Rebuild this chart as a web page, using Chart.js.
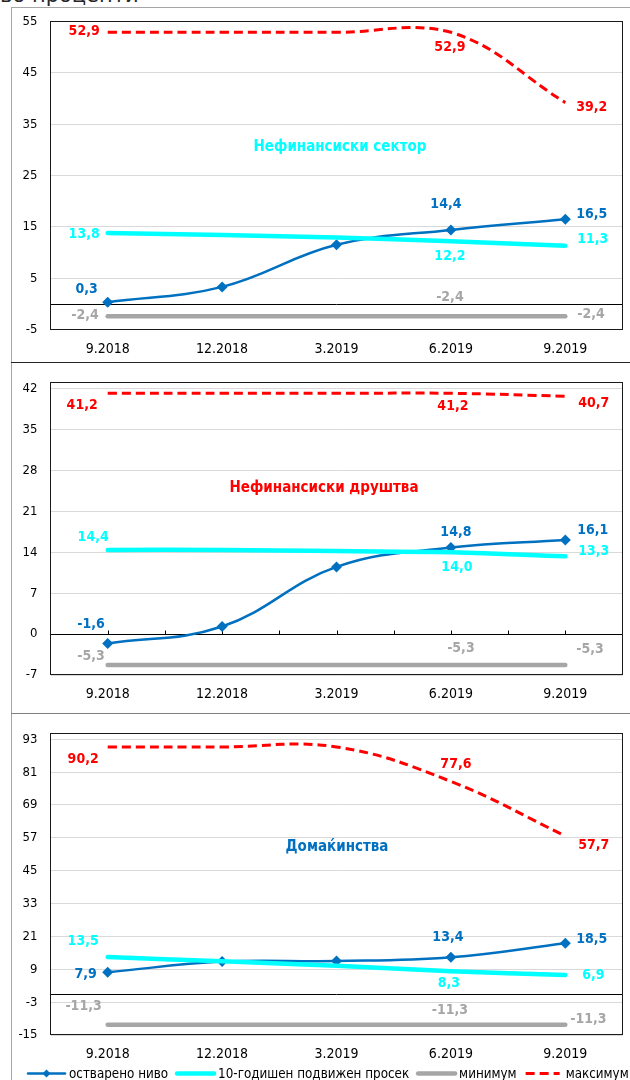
<!DOCTYPE html>
<html>
<head>
<meta charset="utf-8">
<script src="https://cdn.jsdelivr.net/npm/chart.js@4.4.1/dist/chart.umd.min.js"></script>
<style>
  body { margin: 0; background: #fff; }
  #page { position: relative; width: 630px; height: 1080px; overflow: hidden; }
  #unit { position: absolute; left: 0; top: -16px; font: 21px "DejaVu Sans"; line-height: 22px; color: #262626; white-space: nowrap; }
  #box { position: absolute; left: 11px; top: 7px; width: 640px; height: 1090px; border-left: 1px solid #a6a6a6; border-top: 1px solid #a6a6a6; }
  .rule { position: absolute; left: 11px; width: 640px; height: 0; }
  canvas { position: absolute; left: 0; }
</style>
</head>
<body>
<div id="page">
  <div id="unit">во проценти</div>
  <div id="box"></div>
  <div class="rule" style="top:362px;border-top:1px solid #262626"></div>
  <div class="rule" style="top:713px;border-top:1px solid #7f7f7f"></div>
  <canvas id="c1" width="630" height="362" style="top:0"></canvas>
  <canvas id="c2" width="630" height="351" style="top:362px"></canvas>
  <canvas id="c3" width="630" height="367" style="top:713px"></canvas>
</div>
<script>
// categories and series
const categories = ['9.2018', '12.2018', '3.2019', '6.2019', '9.2019'];
const seriesNames = ['остварено ниво', '10-годишен подвижен просек', 'минимум', 'максимум'];
const panelTitles = ['Нефинансиски сектор', 'Нефинансиски друштва', 'Домаќинства'];

const sectorActual = [0.3, 3.3, 11.5, 14.4, 16.5];
const sectorAvg    = [13.8, 13.4, 12.9, 12.2, 11.3];
const sectorMin    = [-2.4, -2.4, -2.4, -2.4, -2.4];
const sectorMax    = [52.9, 52.9, 52.9, 52.9, 39.2];
const sectorTicks  = [-5, 5, 15, 25, 35, 45, 55];

const firmsActual = [-1.6, 1.3, 11.5, 14.8, 16.1];
const firmsAvg    = [14.4, 14.4, 14.2, 14.0, 13.3];
const firmsMin    = [-5.3, -5.3, -5.3, -5.3, -5.3];
const firmsMax    = [41.2, 41.2, 41.2, 41.2, 40.7];
const firmsTicks  = [-7, 0, 7, 14, 21, 28, 35, 42];

const hhActual = [7.9, 11.8, 12.0, 13.4, 18.5];
const hhAvg    = [13.5, 11.9, 10.3, 8.3, 6.9];
const hhMin    = [-11.3, -11.3, -11.3, -11.3, -11.3];
const hhMax    = [90.2, 90.2, 90.2, 77.6, 57.7];
const hhTicks  = [-15, -3, 9, 21, 33, 45, 57, 69, 81, 93];

const colors = ['#0070c0', '#00ffff', '#a6a6a6', '#ff0000'];
const FONT = "'DejaVu Sans Condensed', 'DejaVu Sans', sans-serif";
const fmt = v => v.toFixed(1).replace('.', ',');

// zero line, plot frame, in-plot title and value labels
const panelPlugin = {
  id: 'panel',
  beforeDatasetsDraw(chart, args, o) {
    const { ctx, chartArea: a } = chart;
    const y0 = Math.round(chart.scales.y.getPixelForValue(0)) + 0.5;
    ctx.save();
    ctx.lineWidth = 1;
    ctx.strokeStyle = '#000';
    ctx.beginPath(); ctx.moveTo(a.left, y0); ctx.lineTo(a.right, y0); ctx.stroke();
    if (o.zeroTicks) {
      const step = (a.right - a.left) / (categories.length * 2);
      for (let k = 1; k < categories.length * 2; k++) {
        const x = Math.round(a.left + k * step) + 0.5;
        ctx.beginPath(); ctx.moveTo(x, y0); ctx.lineTo(x, y0 - 4); ctx.stroke();
      }
    }
    ctx.strokeStyle = '#1a1a1a';
    ctx.strokeRect(Math.floor(a.left) + 0.5, Math.floor(a.top) + 0.5,
      Math.round(a.right - a.left), Math.round(a.bottom - a.top));
    ctx.restore();
  },
  afterDatasetsDraw(chart, args, o) {
    const ctx = chart.ctx;
    ctx.save();
    ctx.textBaseline = 'middle';
    ctx.font = 'bold 15px ' + FONT;
    ctx.fillStyle = o.titleColor;
    ctx.textAlign = 'center';
    ctx.fillText(o.title, o.titleX, o.titleY);
    ctx.font = 'bold 14px ' + FONT;
    o.labels.forEach((list, di) => {
      const ds = chart.data.datasets[di];
      const meta = chart.getDatasetMeta(di);
      ctx.fillStyle = ds.borderColor;
      list.forEach(([i, dx, dy, align]) => {
        const p = meta.data[i];
        ctx.textAlign = align;
        ctx.fillText(fmt(ds.data[i]), p.x + dx, p.y + dy);
      });
    });
    ctx.restore();
  }
};

// bottom legend drawn as line samples
const legendPlugin = {
  id: 'lineLegend',
  afterDraw(chart) {
    const ctx = chart.ctx;
    const y = 360.5;
    let x = 28;
    ctx.save();
    ctx.font = '13.3px ' + FONT;
    ctx.textBaseline = 'middle';
    ctx.textAlign = 'left';
    chart.data.datasets.forEach((ds, i) => {
      const len = i === 3 ? 34 : 37;
      ctx.strokeStyle = ds.borderColor;
      ctx.lineWidth = ds.borderWidth;
      ctx.setLineDash(ds.borderDash || []);
      ctx.lineCap = ds.borderDash ? 'butt' : 'round';
      ctx.beginPath(); ctx.moveTo(x, y); ctx.lineTo(x + len, y); ctx.stroke();
      ctx.setLineDash([]);
      if (ds.pointRadius) {
        const cx = x + len / 2, r = 4;
        ctx.fillStyle = ds.borderColor;
        ctx.beginPath();
        ctx.moveTo(cx, y - r); ctx.lineTo(cx + r, y); ctx.lineTo(cx, y + r); ctx.lineTo(cx - r, y);
        ctx.closePath(); ctx.fill();
      }
      x += len + (i === 3 ? 6 : 4);
      ctx.fillStyle = '#000';
      ctx.fillText(ds.label, x, y + 1);
      x += ctx.measureText(ds.label).width + 9;
    });
    ctx.restore();
  }
};

function makePanel(id, series, ticks, min, max, layout, panelOpts, extra) {
  const datasets = series.map((data, i) => ({
    label: seriesNames[i],
    data,
    borderColor: colors[i],
    backgroundColor: colors[i],
    borderWidth: [2.5, 4.5, 4.5, 3][i],
    borderDash: i === 3 ? [9, 5] : undefined,
    borderCapStyle: i === 1 || i === 2 ? 'round' : 'butt',
    pointStyle: 'rectRot',
    pointRadius: i === 0 ? 5.5 : 0,
    pointBorderWidth: 0,
    tension: 0.4,
    order: 4 - i
  }));
  return new Chart(document.getElementById(id), {
    type: 'line',
    data: { labels: categories, datasets },
    plugins: [panelPlugin].concat(extra || []),
    options: {
      responsive: false,
      devicePixelRatio: 1,
      animation: false,
      layout: { padding: { left: 0, right: 7.5, top: layout.top, bottom: 0 } },
      plugins: { legend: { display: false }, tooltip: { enabled: false }, panel: panelOpts },
      scales: {
        x: {
          type: 'category',
          offset: true,
          grid: { display: false, drawTicks: false },
          border: { display: false },
          ticks: { font: { family: FONT, size: 14 }, color: '#000', padding: 11, maxRotation: 0, autoSkip: false },
          afterFit: s => { s.height = layout.xHeight; }
        },
        y: {
          min, max,
          grid: { color: '#d9d9d9', lineWidth: 1, drawTicks: false },
          border: { display: false },
          ticks: { font: { family: FONT, size: 13 }, color: '#000', padding: 13, callback: v => String(v) },
          afterBuildTicks: s => { s.ticks = ticks.map(v => ({ value: v })); },
          afterFit: s => { s.width = 50.5; }
        }
      }
    }
  });
}

makePanel('c1', [sectorActual, sectorAvg, sectorMin, sectorMax], sectorTicks, -5, 55,
  { top: 21.5, xHeight: 32.5 },
  {
    title: panelTitles[0], titleColor: '#00ffff', titleX: 340, titleY: 147,
    labels: [
      [[0, -10, -13, 'right'], [3, -5, -26, 'center'], [4, 11, -5, 'left']],
      [[0, -8, 1, 'right'], [3, -1, 15, 'center'], [4, 12, -6, 'left']],
      [[0, -9, -1, 'right'], [3, -1, -19, 'center'], [4, 12, -2, 'left']],
      [[0, -8, -1, 'right'], [3, -1, 15, 'center'], [4, 11, 5, 'left']]
    ]
  });

makePanel('c2', [firmsActual, firmsAvg, firmsMin, firmsMax], firmsTicks, -7, 43,
  { top: 15, xHeight: 38 },
  {
    title: panelTitles[1], titleColor: '#ff0000', titleX: 324, titleY: 126, zeroTicks: true,
    labels: [
      [[0, -3, -19, 'right'], [3, 5, -15, 'center'], [4, 12, -10, 'left']],
      [[0, 1, -13, 'right'], [3, 6, 15, 'center'], [4, 13, -5, 'left']],
      [[0, -3, -9, 'right'], [3, 10, -17, 'center'], [4, 11, -16, 'left']],
      [[0, -10, 12, 'right'], [3, 2, 13, 'center'], [4, 13, 7, 'left']]
    ]
  });

makePanel('c3', [hhActual, hhAvg, hhMin, hhMax], hhTicks, -15, 95,
  { top: 15.3, xHeight: 45 },
  {
    title: panelTitles[2], titleColor: '#0070c0', titleX: 337, titleY: 134,
    labels: [
      [[0, -11, 2, 'right'], [3, -3, -20, 'center'], [4, 11, -4, 'left']],
      [[0, -9, -16, 'right'], [3, -2, 12, 'center'], [4, 17, 0, 'left']],
      [[0, -6, -19, 'right'], [3, -1, -15, 'center'], [4, 5, -6, 'left']],
      [[0, -9, 12, 'right'], [3, 5, -17, 'center'], [4, 13, 9, 'left']]
    ]
  }, [legendPlugin]);
</script>
</body>
</html>
